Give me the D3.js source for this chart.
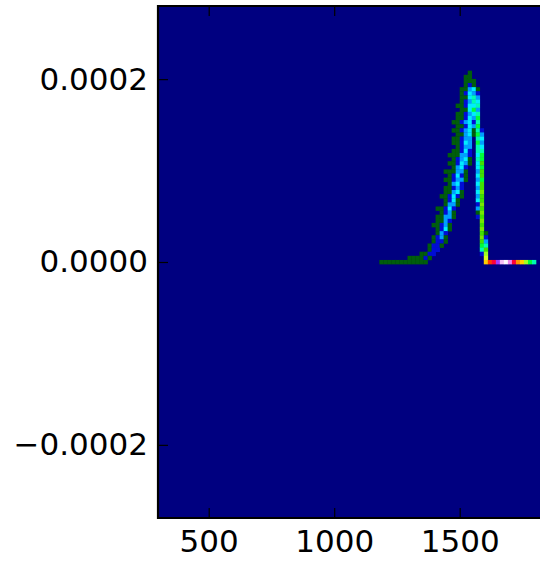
<!DOCTYPE html>
<html>
<head>
<meta charset="utf-8">
<script src="https://cdn.jsdelivr.net/npm/d3@7"></script>
<style>
  html, body { margin: 0; padding: 0; background: #fff; }
  svg { display: block; }
  text { font-family: "DejaVu Sans", sans-serif; }
</style>
</head>
<body>
<svg id="chart" width="540" height="567"></svg>
<script>
// ---------------- data ----------------
// x-bin left edges (bin width 16)
const xBinLeft = [1180,1196,1212,1228,1244,1260,1276,1292,1308,1324,1340,1356,1372,1388,1404,1420,1436,1452,1468,1484,
                  1500,1516,1532,1548,1564,1580,1596,1612,1628,1644,1660,1676,1692,1708,1724,1740,1756,1772,1788];
const xBinWidth = 16;
// y-bin lower edges, in units of 1e-6 (bin height 4.5e-6); index = row from the bottom
const yBinLow = [-2.25,2.25,6.75,11.25,15.75,20.25,24.75,29.25,33.75,38.25,42.75,47.25,51.75,56.25,60.75,65.25,69.75,
                 74.25,78.75,83.25,87.75,92.25,96.75,101.25,105.75,110.25,114.75,119.25,123.75,128.25,132.75,137.25,
                 141.75,146.25,150.75,155.25,159.75,164.25,168.75,173.25,177.75,182.25,186.75,191.25,195.75,200.25,204.75];
const yBinHeight = 4.5;
const yUnit = 1e-6;
// 2-D histogram counts (base-21 digits), rows listed from the top row (index 46) down to row 0
const countRows = [
  "0000000000 0000000000 0010000000 000000000", // 46
  "0000000000 0000000000 0110000000 000000000", // 45
  "0000000000 0000000000 0111000000 000000000", // 44
  "0000000000 0000000000 0121000000 000000000", // 43
  "0000000000 0000000000 1134100000 000000000", // 42
  "0000000000 0000000000 1243200000 000000000", // 41
  "0000000000 0000000000 1145300000 000000000", // 40
  "0000000000 0000000000 1235400000 000000000", // 39
  "0000000000 0000000001 1244500000 000000000", // 38
  "0000000000 0000000000 1146300000 000000000", // 37
  "0000000000 0000000001 1234500000 000000000", // 36
  "0000000000 0000000001 1243600000 000000000", // 35
  "0000000000 0000000011 2342500000 000000000", // 34
  "0000000000 0000000001 1243600000 000000000", // 33
  "0000000000 0000000011 2341520000 000000000", // 32
  "0000000000 0000000001 1341630000 000000000", // 31
  "0000000000 0000000011 2330540000 000000000", // 30
  "0000000000 0000000011 2430630000 000000000", // 29
  "0000000000 0000000001 2330540000 000000000", // 28
  "0000000000 0000000011 2420550000 000000000", // 27
  "0000000000 0000000111 3320460000 000000000", // 26
  "0000000000 0000000012 3410560000 000000000", // 25
  "0000000000 0000000112 4310470000 000000000", // 24
  "0000000000 0000000013 4200460000 000000000", // 23
  "0000000000 0000001113 3100370000 000000000", // 22
  "0000000000 0000000124 2100470000 000000000", // 21
  "0000000000 0000001123 3100360000 000000000", // 20
  "0000000000 0000000134 2000470000 000000000", // 19
  "0000000000 0000001123 2000370000 000000000", // 18
  "0000000000 0000001134 1000480000 000000000", // 17
  "0000000000 0000011242 1000370000 000000000", // 16
  "0000000000 0000001241 0000470000 000000000", // 15
  "0000000000 0000001331 0000280000 000000000", // 14
  "0000000000 0000112420 0000370000 000000000", // 13
  "0000000000 0000012310 0000180000 000000000", // 12
  "0000000000 0000113310 0000270000 000000000", // 11
  "0000000000 0000113200 0000080000 000000000", // 10
  "0000000000 0001123100 0000070000 000000000", // 9
  "0000000000 0000124100 0000080000 000000000", // 8
  "0000000000 0000132000 0000071000 000000000", // 7
  "0000000000 0001231000 0000082000 000000000", // 6
  "0000000000 0001221000 0000073000 000000000", // 5
  "0000000000 0012210000 0000065000 000000000", // 4
  "0000000000 0012200000 0000057000 000000000", // 3
  "0000000000 1122000000 0000029000 000000000", // 2
  "0000000111 1210000000 000000a000 000000000", // 1
  "1111111111 1100000000 000000cefh jkifdc965"  // 0
];
const maxCount = 20;
const xTicks = [500, 1000, 1500];
const xTickLabels = ["500", "1000", "1500"];
const yTicks = [-0.0002, 0, 0.0002];
const yTickLabels = ["\u22120.0002", "0.0000", "0.0002"];
const xDomain = [300, 2000];
const yDomain = [-0.00028, 0.00028];

(function () {
// ---------------- colormap (gist_ncar) ----------------
const ncarR = [[0,0],[0.3098,0],[0.3725,0.3993],[0.4235,0.5003],[0.5333,1],[0.7922,1],[0.8471,0.6218],[0.898,0.9235],[1,0.9961]];
const ncarG = [[0,0],[0.051,0.3722],[0.1059,0],[0.1569,0.7202],[0.1608,0.7537],[0.1647,0.7752],[0.2157,1],[0.2588,0.9804],
               [0.2706,0.9804],[0.3176,1],[0.3686,0.8081],[0.4275,1],[0.5216,1],[0.6314,0.7292],[0.6863,0.2796],[0.7451,0],
               [0.7922,0],[0.8431,0.1753],[0.898,0.5],[1,0.9725]];
const ncarB = [[0,0.502],[0.051,0.0222],[0.1098,1],[0.2039,1],[0.2627,0.6145],[0.3216,0],[0.4157,0],[0.4745,0.2342],
               [0.5333,0],[0.7373,0],[0.7922,0.9738],[0.8,1],[0.8431,1],[0.898,0.9341],[1,0.9961]];
function segInterp(seg, t) {
  t = Math.max(0, Math.min(1, t));
  for (let i = 1; i < seg.length; i++) {
    if (t <= seg[i][0]) {
      const [t0, v0] = seg[i-1], [t1, v1] = seg[i];
      return v0 + (v1 - v0) * (t - t0) / (t1 - t0);
    }
  }
  return seg[seg.length-1][1];
}
function gistNcar(t) {
  return d3.rgb(255*segInterp(ncarR,t), 255*segInterp(ncarG,t), 255*segInterp(ncarB,t)).toString();
}

// ---------------- layout ----------------
const svg = d3.select("#chart");
const pLeft = 158, pTop = 6, pBottom = 518, pRight = 158 + (xDomain[1]-xDomain[0]) * 0.251;
const x = d3.scaleLinear().domain(xDomain).range([pLeft + 0.5, pRight + 0.5]);
const y = d3.scaleLinear().domain(yDomain).range([pBottom, pTop]);

svg.append("rect").attr("width", 540).attr("height", 567).attr("fill", "#fff");

const defs = svg.append("defs");
defs.append("clipPath").attr("id", "plotclip")
  .append("rect").attr("x", pLeft).attr("y", pTop).attr("width", pRight - pLeft).attr("height", pBottom - pTop);
defs.append("filter").attr("id", "soft").attr("x", "-5%").attr("y", "-5%").attr("width", "110%").attr("height", "110%")
  .append("feGaussianBlur").attr("stdDeviation", 0.7);

const plot = svg.append("g").attr("clip-path", "url(#plotclip)");
plot.append("rect").attr("x", pLeft).attr("y", pTop).attr("width", pRight - pLeft).attr("height", pBottom - pTop)
  .attr("fill", gistNcar(0));

// build cells
const cells = [];
const nRows = countRows.length;
countRows.forEach((s, i) => {
  const row = nRows - 1 - i;
  const str = s.replace(/ /g, "");
  for (let c = 0; c < str.length; c++) {
    const n = parseInt(str[c], 21);
    if (n > 0) cells.push({x0: xBinLeft[c], x1: xBinLeft[c] + xBinWidth,
                           y0: yBinLow[row] * yUnit, y1: (yBinLow[row] + yBinHeight) * yUnit, n});
  }
});

plot.append("g").attr("filter", "url(#soft)")
  .selectAll("rect").data(cells).join("rect")
  .attr("x", d => x(d.x0))
  .attr("y", d => y(d.y1))
  .attr("width", d => x(d.x1) - x(d.x0) + 0.3)
  .attr("height", d => y(d.y0) - y(d.y1) + 0.3)
  .attr("fill", d => gistNcar(d.n / maxCount));

// axes (inward ticks, classic style)
const tickLen = 10;
const gx = svg.append("g").attr("transform", `translate(0,${pBottom})`)
  .call(d3.axisBottom(x).tickValues(xTicks).tickFormat((d, i) => xTickLabels[i]).tickSizeInner(-tickLen).tickSizeOuter(0).tickPadding(12));
const gxTop = svg.append("g").attr("transform", `translate(0,${pTop})`)
  .call(d3.axisTop(x).tickValues(xTicks).tickFormat("").tickSizeInner(-tickLen).tickSizeOuter(0));
const gy = svg.append("g").attr("transform", `translate(${pLeft},0)`)
  .call(d3.axisLeft(y).tickValues(yTicks).tickFormat((d, i) => yTickLabels[i]).tickSizeInner(-tickLen).tickSizeOuter(0).tickPadding(10));

[gx, gxTop, gy].forEach(g => {
  g.select(".domain").remove();
  g.selectAll(".tick line").attr("stroke", "#000").attr("stroke-width", 1.2);
  g.selectAll(".tick text").attr("fill", "#000").attr("font-size", 31).attr("font-family", "DejaVu Sans");
});

// frame (spines)
svg.append("path")
  .attr("d", `M${pRight},${pTop}H${pLeft}V${pBottom}H${pRight}`)
  .attr("fill", "none").attr("stroke", "#000").attr("stroke-width", 2.2);
})();
</script>
</body>
</html>
